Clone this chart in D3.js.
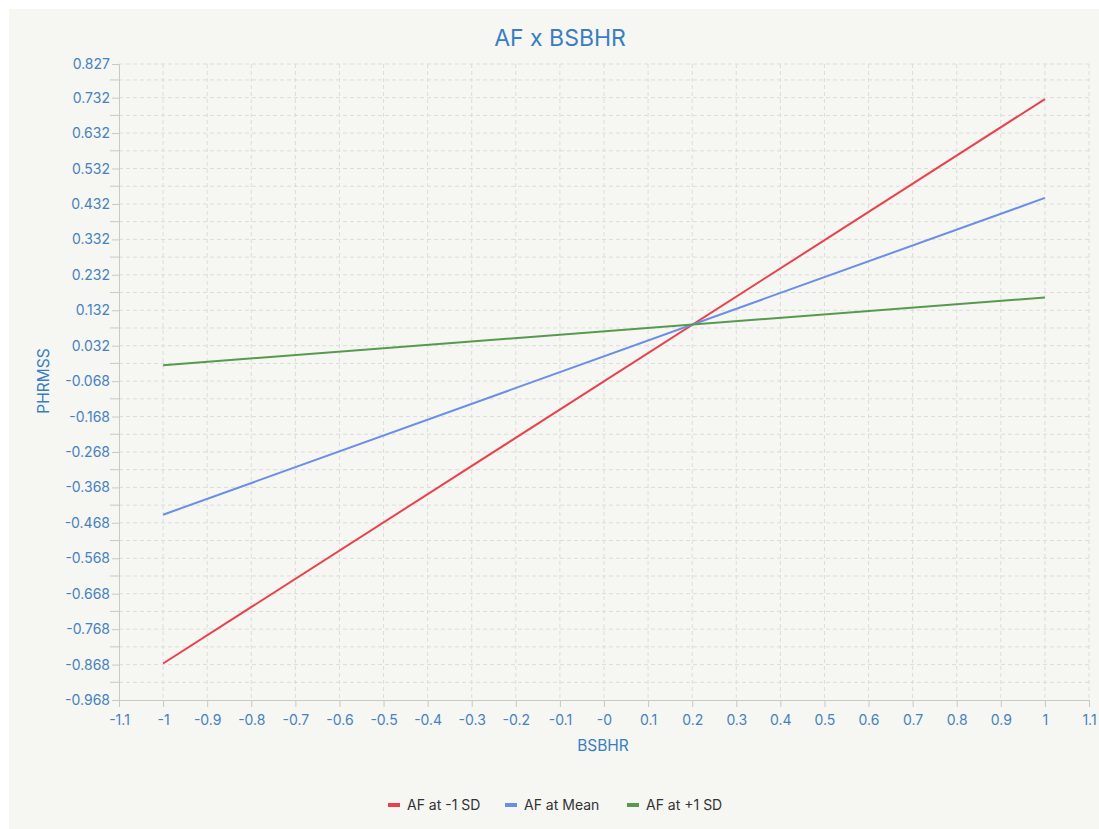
<!DOCTYPE html>
<html lang="en">
<head>
<meta charset="utf-8">
<title>AF x BSBHR</title>
<script src="https://d3js.org/d3.v7.min.js"></script>
<style>
  body { margin: 0; background: #ffffff; }
  text { font-family: Inter, "Noto Sans", sans-serif; }
</style>
</head>
<body>
<div id="chart"></div>
<script>
// data
var xValues = [-1, 1];
var seriesNames = ["AF at -1 SD", "AF at Mean", "AF at +1 SD"];
var seriesColors = ["#e8424c", "#6b8fe6", "#559a4f"];
var lowSD = [-0.865, 0.728];
var meanSD = [-0.445, 0.449];
var highSD = [-0.023, 0.168];

var xTicks = [-1.1, -1, -0.9, -0.8, -0.7, -0.6, -0.5, -0.4, -0.3, -0.2, -0.1, 0,
              0.1, 0.2, 0.3, 0.4, 0.5, 0.6, 0.7, 0.8, 0.9, 1, 1.1];
var xTickLabels = ["-1.1", "-1", "-0.9", "-0.8", "-0.7", "-0.6", "-0.5", "-0.4", "-0.3", "-0.2", "-0.1", "-0",
                   "0.1", "0.2", "0.3", "0.4", "0.5", "0.6", "0.7", "0.8", "0.9", "1", "1.1"];
var yTicks = [0.827, 0.732, 0.632, 0.532, 0.432, 0.332, 0.232, 0.132, 0.032, -0.068, -0.168,
              -0.268, -0.368, -0.468, -0.568, -0.668, -0.768, -0.868, -0.968];
var yMinor = [0.782, 0.682, 0.582, 0.482, 0.382, 0.282, 0.182, 0.082, -0.018, -0.118, -0.218,
              -0.318, -0.418, -0.518, -0.618, -0.718, -0.818, -0.918];

var series = [lowSD, meanSD, highSD];

var w = 1099, h = 829;
var mLeft = 119, mRight = 1089, mTop = 64, mBottom = 700;

var svg = d3.select("#chart").append("svg")
    .attr("width", w)
    .attr("height", h);

// page background
svg.append("rect")
    .attr("x", 9).attr("y", 9)
    .attr("width", w - 9).attr("height", h - 9)
    .attr("fill", "#f6f6f3");

var x = d3.scaleLinear().domain([-1.1, 1.1]).range([mLeft, mRight]);
var y = d3.scaleLinear().domain([-0.968, 0.827]).range([mBottom, mTop]);

// grid
var grid = svg.append("g");
grid.selectAll(".vgrid")
    .data(xTicks.slice(1))
    .enter().append("line")
    .attr("x1", function (d) { return x(d); })
    .attr("x2", function (d) { return x(d); })
    .attr("y1", mTop).attr("y2", mBottom)
    .attr("stroke", "#dcdcd8")
    .attr("stroke-dasharray", "4,3");
grid.selectAll(".hgrid")
    .data(yTicks.slice(0, -1).concat(yMinor))
    .enter().append("line")
    .attr("x1", mLeft).attr("x2", mRight)
    .attr("y1", function (d) { return y(d); })
    .attr("y2", function (d) { return y(d); })
    .attr("stroke", "#dcdcd8")
    .attr("stroke-dasharray", "4,3");

// minor ticks on the y axis
grid.selectAll(".minorTick")
    .data(yMinor)
    .enter().append("line")
    .attr("x1", mLeft - 9).attr("x2", mLeft)
    .attr("y1", function (d) { return y(d); })
    .attr("y2", function (d) { return y(d); })
    .attr("stroke", "#c8c8c4");

// axes
var xAxis = d3.axisBottom(x)
    .tickValues(xTicks)
    .tickSize(7)
    .tickFormat(function (d, i) { return xTickLabels[i]; });
var yAxis = d3.axisLeft(y)
    .tickValues(yTicks)
    .tickSize(7)
    .tickFormat(function (d) { return d.toFixed(3); });

var gx = svg.append("g")
    .attr("transform", "translate(0," + mBottom + ")")
    .call(xAxis);
var gy = svg.append("g")
    .attr("transform", "translate(" + mLeft + ",0)")
    .call(yAxis);

[gx, gy].forEach(function (g) {
    g.select(".domain").attr("stroke", "#c8c8c4");
    g.selectAll(".tick line").attr("stroke", "#c8c8c4");
    g.selectAll(".tick text")
        .attr("fill", "#4682bd")
        .style("font-size", "14px")
        .style("font-family", "Inter, sans-serif");
});
gx.selectAll(".tick text").attr("dy", "1.05em");
gy.selectAll(".tick text").attr("x", -9);

// lines
var line = d3.line()
    .x(function (d, i) { return x(xValues[i]); })
    .y(function (d) { return y(d); });

svg.selectAll(".series")
    .data(series)
    .enter().append("path")
    .attr("d", line)
    .attr("fill", "none")
    .attr("stroke", function (d, i) { return seriesColors[i]; })
    .attr("stroke-width", 2);

// title and axis labels
svg.append("text")
    .attr("x", 560).attr("y", 46)
    .attr("text-anchor", "middle")
    .attr("fill", "#3a7ec0")
    .style("font-size", "23px")
    .text("AF x BSBHR");

svg.append("text")
    .attr("x", 603).attr("y", 751)
    .attr("text-anchor", "middle")
    .attr("fill", "#3a7ec0")
    .style("font-size", "15.5px")
    .text("BSBHR");

svg.append("text")
    .attr("transform", "translate(49,381) rotate(-90)")
    .attr("text-anchor", "middle")
    .attr("fill", "#3a7ec0")
    .style("font-size", "15.5px")
    .text("PHRMSS");

// legend
var legendX = [388, 505, 627];
var legend = svg.selectAll(".legend")
    .data(seriesNames)
    .enter().append("g")
    .attr("transform", function (d, i) { return "translate(" + legendX[i] + ",805)"; });
legend.append("rect")
    .attr("x", 0).attr("y", -2)
    .attr("width", 12).attr("height", 4)
    .attr("fill", function (d, i) { return seriesColors[i]; });
legend.append("text")
    .attr("x", 19).attr("y", 5)
    .attr("fill", "#333333")
    .style("font-size", "14px")
    .text(function (d) { return d; });
</script>
</body>
</html>
